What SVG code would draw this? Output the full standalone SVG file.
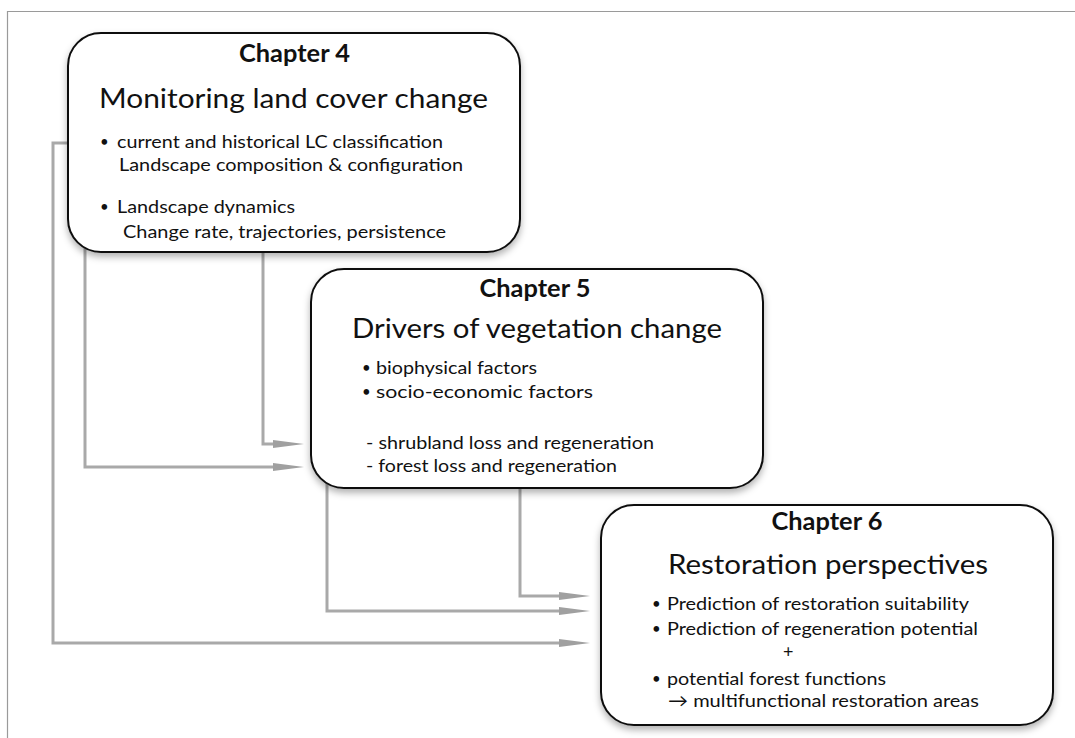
<svg xmlns="http://www.w3.org/2000/svg" width="1075" height="738" viewBox="0 0 1075 738">
  <style>
    text { font-family: Lato, "Liberation Sans", sans-serif; fill: #111; }
    .chap { font-size: 24px; font-weight: bold; text-anchor: middle; }
    .title { font-size: 27px; }
    .body { font-size: 18px; }
    .bul { font-size: 15px; }
    .box { fill: #fff; stroke: #111; stroke-width: 2; }
    .conn { fill: none; stroke: #a9a9a9; stroke-width: 3; }
  </style>
  <defs>
    <filter id="shadow" x="-10%" y="-10%" width="120%" height="130%">
      <feDropShadow dx="0" dy="4" stdDeviation="3.5" flood-color="#000" flood-opacity="0.3"/>
    </filter>
    <marker id="arrow" markerUnits="userSpaceOnUse" markerWidth="31" markerHeight="9" viewBox="0 0 31 9" refX="0" refY="4.5" orient="auto">
      <path d="M0,0.5 L31,4.5 L0,8.5 Z" fill="#a0a0a0"/>
    </marker>
  </defs>

  <rect width="1075" height="738" fill="#fff"/>
  <path d="M7.5,738 V11.5 H1075" fill="none" stroke="#9a9a9a" stroke-width="1.2"/>

  <g id="connectors">
    <path class="conn" d="M97,143 H53 V643 H559" marker-end="url(#arrow)"/>
    <path class="conn" d="M95,153 H85 V467 H273" marker-end="url(#arrow)"/>
    <path class="conn" d="M263,252 V444 H273" marker-end="url(#arrow)"/>
    <path class="conn" d="M350,379 H327 V611 H559" marker-end="url(#arrow)"/>
    <path class="conn" d="M520,488 V596 H559" marker-end="url(#arrow)"/>
  </g>

  <g id="chapter4">
    <rect class="box" x="68" y="33" width="452" height="219" rx="33" filter="url(#shadow)"/>
    <text class="chap" x="294.5" y="62" textLength="111" lengthAdjust="spacingAndGlyphs">Chapter 4</text>
    <text class="title" x="99" y="108" textLength="389" lengthAdjust="spacingAndGlyphs">Monitoring land cover change</text>
    <text class="bul" x="100" y="147">•</text>
    <text class="body" x="117" y="148" textLength="326" lengthAdjust="spacingAndGlyphs">current and historical LC classification</text>
    <text class="body" x="119" y="171" textLength="344" lengthAdjust="spacingAndGlyphs">Landscape composition &amp; configuration</text>
    <text class="bul" x="100" y="212">•</text>
    <text class="body" x="117" y="213" textLength="178" lengthAdjust="spacingAndGlyphs">Landscape dynamics</text>
    <text class="body" x="123" y="238" textLength="323" lengthAdjust="spacingAndGlyphs">Change rate, trajectories, persistence</text>
  </g>

  <g id="chapter5">
    <rect class="box" x="311" y="269" width="452" height="219" rx="33" filter="url(#shadow)"/>
    <text class="chap" x="535" y="297" textLength="111" lengthAdjust="spacingAndGlyphs">Chapter 5</text>
    <text class="title" x="352" y="338" textLength="370" lengthAdjust="spacingAndGlyphs">Drivers of vegetation change</text>
    <text class="bul" x="362" y="373">•</text>
    <text class="body" x="376" y="374" textLength="161" lengthAdjust="spacingAndGlyphs">biophysical factors</text>
    <text class="bul" x="362" y="397">•</text>
    <text class="body" x="376" y="398" textLength="217" lengthAdjust="spacingAndGlyphs">socio-economic factors</text>
    <text class="body" x="366" y="449" textLength="288" lengthAdjust="spacingAndGlyphs">- shrubland loss and regeneration</text>
    <text class="body" x="366" y="472" textLength="251" lengthAdjust="spacingAndGlyphs">- forest loss and regeneration</text>
  </g>

  <g id="chapter6">
    <rect class="box" x="601" y="505" width="452" height="220" rx="33" filter="url(#shadow)"/>
    <text class="chap" x="827" y="530" textLength="111" lengthAdjust="spacingAndGlyphs">Chapter 6</text>
    <text class="title" x="668" y="574" textLength="320" lengthAdjust="spacingAndGlyphs">Restoration perspectives</text>
    <text class="bul" x="652" y="609">•</text>
    <text class="body" x="667" y="610" textLength="302" lengthAdjust="spacingAndGlyphs">Prediction of restoration suitability</text>
    <text class="bul" x="652" y="634">•</text>
    <text class="body" x="667" y="635" textLength="311" lengthAdjust="spacingAndGlyphs">Prediction of regeneration potential</text>
    <text class="body" x="783" y="658">+</text>
    <text class="bul" x="652" y="684">•</text>
    <text class="body" x="667" y="685" textLength="219" lengthAdjust="spacingAndGlyphs">potential forest functions</text>
    <text class="body" x="668" y="707" textLength="311" lengthAdjust="spacingAndGlyphs">→ multifunctional restoration areas</text>
  </g>
</svg>
